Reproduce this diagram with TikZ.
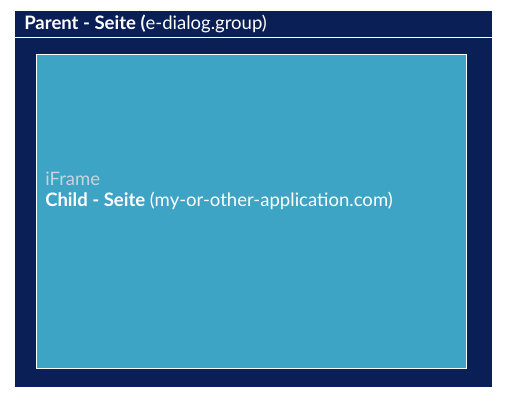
\documentclass[tikz,border=0pt]{standalone}
\usepackage{fontspec}
\setmainfont{Lato}
\definecolor{parentnavy}{RGB}{10,31,86}
\definecolor{childblue}{RGB}{62,164,198}
\definecolor{iframegray}{RGB}{200,212,218}
\tikzset{
  label text/.style={anchor=base west,inner sep=0pt,text=white,font=\fontsize{13.9}{16}\selectfont},
}
\begin{document}
\begin{tikzpicture}[x=0.75pt,y=0.75pt,yscale=-1,xscale=1]
        \useasboundingbox (0,0) rectangle (511,402);
        %Shape: Rectangle [parent]
        \draw [draw=none,fill=parentnavy] (15,11) rectangle (492,387) ;
        %Straight Lines [title rule]
        \coordinate (ruleL) at (15,38);
        \coordinate (ruleR) at (492,38);
        \draw [color=white,line width=0.75] (ruleL) -- (ruleR) ;
        %Shape: Rectangle [child]
        \draw [color=white,line width=0.9,fill=childblue] (36.5,54.5) rectangle (466.5,368.5) ;

        % Text Node
        \node (parent) [label text] at (24,30) {\textbf{Parent - Seite (}e-dialog.group)};
        % Text Node
        \node (iframe) [label text,text=iframegray] at (45,186) {iFrame};
        % Text Node
        \node (child) [label text] at (45,207) {\textbf{Child - Seite} (my-or-other-application.com)};
\end{tikzpicture}
\end{document}
